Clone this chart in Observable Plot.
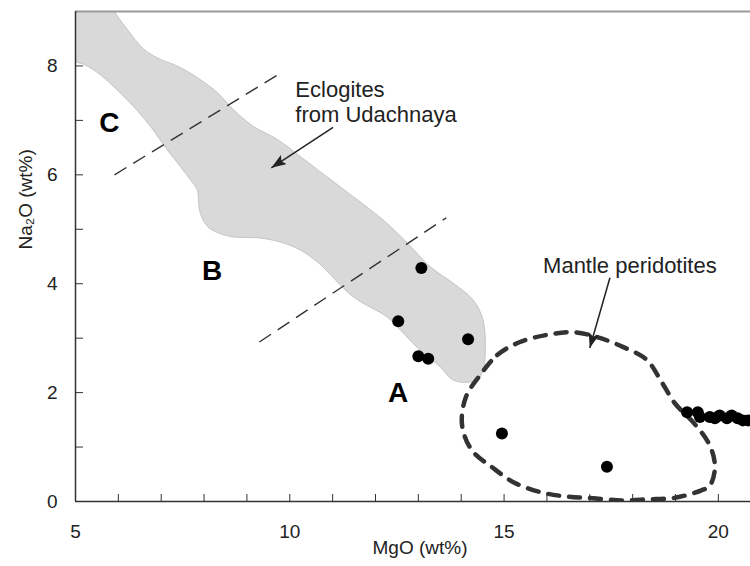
<!DOCTYPE html>
<html><head><meta charset="utf-8">
<script src="https://cdn.jsdelivr.net/npm/d3@7"></script>
<script src="https://cdn.jsdelivr.net/npm/@observablehq/plot@0.6"></script>
<style>body{margin:0;background:#fff}#chart svg{display:block}</style>
</head><body><div id="chart"></div><script>
// Eclogites from Udachnaya field outline (MgO, Na2O wt%)
const eclogiteMgO = [4.65,5.77,5.89,6.21,6.59,6.98,7.28,7.61,7.91,8.31,8.68,9.15,9.71,10.24,10.64,11.41,12.18,12.74,13.28,13.81,14.28,14.51,14.56,14.51,14.37,14.14,13.81,13.51,13.04,12.58,12.27,11.48,10.66,10.24,9.85,9.31,8.68,8.31,8.08,7.91,7.87,7.84,7.68,7.45,7.14,6.75,6.35,5.89,5.51,5.19,5.0,4.65];
const eclogiteNa2O = [9.41,9.23,9.02,8.67,8.31,8.12,8.03,7.90,7.75,7.51,7.20,6.89,6.65,6.34,6.10,5.64,5.17,4.75,4.31,4.01,3.70,3.33,2.73,2.41,2.23,2.19,2.23,2.47,2.78,3.15,3.39,3.76,4.39,4.62,4.75,4.84,4.86,4.94,5.05,5.30,5.54,5.73,5.91,6.15,6.46,6.89,7.26,7.62,7.88,8.03,8.07,8.12];
// Mantle peridotites field outline
const mantleMgO = [14.44,14.84,15.37,16.0,16.61,17.17,17.77,18.33,18.68,18.99,19.43,19.80,19.92,19.80,19.59,18.99,18.36,17.75,17.07,16.47,15.86,15.23,14.72,14.25,14.02,14.11];
const mantleNa2O = [2.32,2.69,2.93,3.06,3.11,3.02,2.84,2.60,2.19,1.80,1.44,1.03,0.63,0.29,0.20,0.07,0.04,0.02,0.06,0.09,0.17,0.35,0.63,0.94,1.40,1.92];
// Sample points
const sampleMgO = [13.07,12.53,14.16,13.00,13.23,14.95,17.40,19.27,19.52,19.57,19.80,19.92,20.03,20.20,20.31,20.45,20.57,20.69];
const sampleNa2O = [4.29,3.31,2.98,2.67,2.62,1.25,0.64,1.64,1.64,1.55,1.55,1.53,1.58,1.53,1.58,1.53,1.49,1.49];
// Dashed divider lines between zones
const dividerMgO1 = [5.91, 9.29];
const dividerNa2O1 = [6.00, 2.93];
const dividerMgO2 = [9.85, 13.65];
const dividerNa2O2 = [7.90, 5.21];
// Zone labels
const zoneNames = ["A","B","C"];
const zoneMgO = [12.53, 8.19, 5.79];
const zoneNa2O = [1.99, 4.24, 6.96];
// Field labels and arrows
const fieldNames = ["Eclogites\nfrom Udachnaya", "Mantle peridotites"];
const fieldLabelMgO = [10.13, 15.91];
const fieldLabelNa2O = [7.34, 4.34];
const arrowFromMgO = [11.01, 17.47];
const arrowFromNa2O = [6.87, 4.11];
const arrowToMgO = [9.57, 17.00];
const arrowToNa2O = [6.13, 2.82];
// Axes
const xTicks = d3.range(5, 21);
const xTickLabels = [5, 10, 15, 20];
const yTicks = d3.range(0, 9);
const yTickLabels = [0, 2, 4, 6, 8];
const xTitle = "MgO (wt%)";
const yTitle = "Na\u2082O (wt%)";

const eclogite = eclogiteMgO.map((x, i) => ({x, y: eclogiteNa2O[i]}));
const mantle = mantleMgO.map((x, i) => ({x, y: mantleNa2O[i]}));
const samples = sampleMgO.map((x, i) => ({x, y: sampleNa2O[i]}));
const dividers = [
  {x1: dividerMgO1[0], y1: dividerNa2O1[0], x2: dividerMgO2[0], y2: dividerNa2O2[0]},
  {x1: dividerMgO1[1], y1: dividerNa2O1[1], x2: dividerMgO2[1], y2: dividerNa2O2[1]}
];
const zones = zoneNames.map((t, i) => ({t, x: zoneMgO[i], y: zoneNa2O[i]}));
const fieldLabels = fieldNames.map((t, i) => ({t, x: fieldLabelMgO[i], y: fieldLabelNa2O[i]}));
const arrows = arrowFromMgO.map((x1, i) => ({x1, y1: arrowFromNa2O[i], x2: arrowToMgO[i], y2: arrowToNa2O[i]}));

function filledArrow(color, context) {
  const doc = (context && context.document) || document;
  const ns = "http://www.w3.org/2000/svg";
  const m = doc.createElementNS(ns, "marker");
  m.setAttribute("viewBox", "-15 -5.5 15 11");
  m.setAttribute("markerWidth", 15);
  m.setAttribute("markerHeight", 11);
  m.setAttribute("markerUnits", "userSpaceOnUse");
  m.setAttribute("orient", "auto");
  m.setAttribute("fill", "#222");
  m.setAttribute("stroke", "none");
  const p = doc.createElementNS(ns, "path");
  p.setAttribute("d", "M-15,-5.5L0,0L-15,5.5L-12,0Z");
  m.appendChild(p);
  return m;
}

function build(useMarker) {
  const arrowMark = useMarker
    ? Plot.link(arrows, {x1: "x1", y1: "y1", x2: "x2", y2: "y2", stroke: "#222", strokeWidth: 1.5, markerEnd: filledArrow})
    : Plot.arrow(arrows, {x1: "x1", y1: "y1", x2: "x2", y2: "y2", stroke: "#222", strokeWidth: 1.6, headLength: 14});
  return Plot.plot({
    width: 750, height: 566,
    marginLeft: 75, marginRight: 0, marginTop: 11, marginBottom: 65,
    style: {fontFamily: "'Liberation Sans', Arial, sans-serif", fontSize: "19px", color: "#222", background: "#fff"},
    x: {domain: [5, 20.75]},
    y: {domain: [0, 9]},
    marks: [
      Plot.line(eclogite, {x: "x", y: "y", curve: "catmull-rom-closed", fill: "#d9d9d9", stroke: "#c4c4c4", strokeWidth: 1, clip: true}),
      Plot.link(dividers, {x1: "x1", y1: "y1", x2: "x2", y2: "y2", stroke: "#333", strokeWidth: 1.4, strokeDasharray: "14,8"}),
      Plot.line(mantle, {x: "x", y: "y", curve: "catmull-rom-closed", stroke: "#333", strokeWidth: 4.5, strokeDasharray: "11,10", clip: true}),
      Plot.dot(samples, {x: "x", y: "y", r: 6, fill: "#000", stroke: "none"}),
      arrowMark,
      Plot.text(zones, {x: "x", y: "y", text: "t", fontSize: 28, fontWeight: "bold", fill: "#000"}),
      Plot.text(fieldLabels, {x: "x", y: "y", text: "t", textAnchor: "start", fontSize: 22, lineHeight: 1.14, fill: "#222"}),
      Plot.ruleY([9], {stroke: "#999", strokeWidth: 2}),
      Plot.ruleX([5], {stroke: "#333", strokeWidth: 1.5}),
      Plot.ruleY([0], {stroke: "#333", strokeWidth: 1.5}),
      Plot.axisX(xTicks, {tickSize: -7, tickPadding: 30, tickFormat: d => xTickLabels.includes(d) ? String(d) : "", label: null, stroke: "#333", fill: "#222"}),
      Plot.axisY(yTicks, {tickSize: -8, tickPadding: 26, tickFormat: d => yTickLabels.includes(d) ? String(d) : "", label: null, stroke: "#333", fill: "#222"}),
      Plot.text([xTitle], {frameAnchor: "bottom", dy: 52, dx: 7, fontSize: 19, fill: "#222"}),
      Plot.text([yTitle], {frameAnchor: "left", dx: -50, dy: -7, rotate: -90, fontSize: 19, fill: "#222"})
    ]
  });
}

let chart;
try { chart = build(true); } catch (e) { chart = build(false); }
document.getElementById("chart").appendChild(chart);
</script></body></html>
